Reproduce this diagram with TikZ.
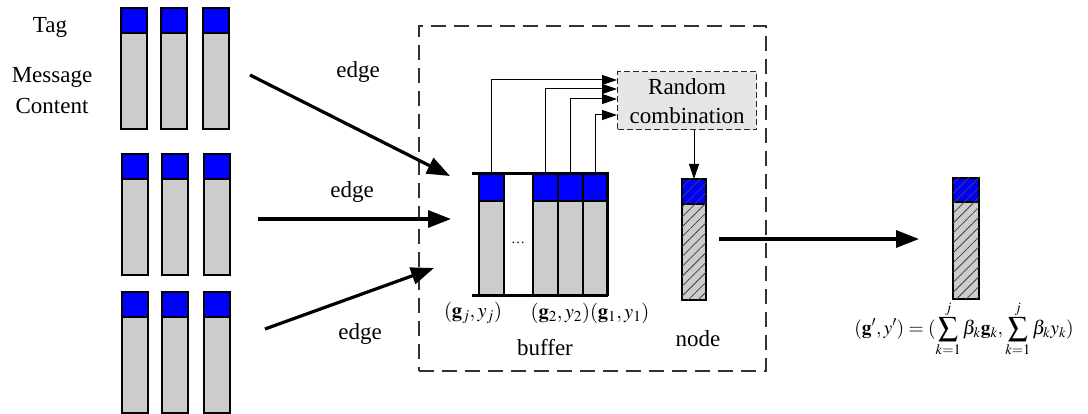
\documentclass[tikz,border=0pt]{standalone}
\usepackage{mathptmx}
\usepackage{fontspec}
\setmainfont{Liberation Serif}
\usetikzlibrary{arrows.meta,patterns.meta}
\definecolor{barGray}{RGB}{204,204,204}
\definecolor{tagBlue}{RGB}{0,0,255}
\definecolor{rcGray}{RGB}{230,230,230}
\definecolor{frameGray}{RGB}{50,50,50}
\newcommand\msgcol[3]{%
  \node[tagcell, minimum width=26pt, minimum height=25pt] (#1t) at (#2,#3) {};
  \node[bodycell, minimum width=26pt, minimum height=96pt] (#1b) at (#2,#3+25) {};
}
\begin{document}
\begin{tikzpicture}[x=1pt,y=-1pt,
  cell/.style={draw=black, line width=1.1pt, inner sep=0pt, outer sep=0pt, anchor=north west},
  tagcell/.style={cell, fill=tagBlue},
  bodycell/.style={cell, fill=barGray},
  hatch/.style={postaction={pattern={Lines[angle=45,distance=7pt,line width=0.8pt]}, pattern color=black!75}},
  lab/.style={font=\fontsize{23}{27}\selectfont, inner sep=0pt},
  mlab/.style={font=\fontsize{20.5}{24}\selectfont, inner sep=0pt},
  big/.style={line width=3.2pt, -{Triangle[length=23pt,width=17pt]}},
  thinarrow/.style={line width=1pt, -{Triangle[length=15pt,width=10pt]}},
  thick frame/.style={line width=3pt},
  rcbox/.style={draw=black!85, dash pattern=on 6pt off 3pt, line width=1.3pt, fill=rcGray,
    inner sep=0pt, anchor=north west, align=center, font=\fontsize{23}{29}\selectfont},
  bigbox/.style={draw=frameGray, dash pattern=on 15pt off 8pt, line width=1.4pt}
]
\useasboundingbox (0,0) rectangle (1088,414);

% left message groups
\msgcol{a1}{121}{8}
\msgcol{a2}{161}{8}
\msgcol{a3}{203}{8}
\msgcol{b1}{122}{154}
\msgcol{b2}{162}{154}
\msgcol{b3}{204}{154}
\msgcol{c1}{122}{292}
\msgcol{c2}{162}{292}
\msgcol{c3}{204}{292}

\node[lab] (tag) at (50,27) {Tag};
\node[lab] (msg) at (52,77) {Message};
\node[lab] (cont) at (52,106) {Content};

% big dashed box
\node[bigbox, inner sep=0pt, outer sep=0pt, anchor=north west, minimum width=347pt, minimum height=345pt] (frame) at (419,26) {};

% edges
\coordinate (e1s) at (250,75);  \coordinate (e1e) at (450,176);
\coordinate (e2s) at (258,219); \coordinate (e2e) at (451,219);
\coordinate (e3s) at (265,329); \coordinate (e3e) at (434,268);
\draw[big] (e1s) -- (e1e);
\draw[big] (e2s) -- (e2e);
\draw[big] (e3s) -- (e3e);
\node[lab] (edge1) at (358,72) {edge};
\node[lab] (edge2) at (352,192) {edge};
\node[lab] (edge3) at (360,334) {edge};

% buffer
\node[tagcell, minimum width=25pt, minimum height=27pt] (bt1) at (479,174) {};
\node[bodycell, minimum width=25pt, minimum height=95pt] (bb1) at (479,201) {};
\node[cell, fill=white, minimum width=29pt, minimum height=122pt] (bgap) at (504,174) {};
\node[font=\fontsize{14}{16}\selectfont, inner sep=0pt] (dots) at (518,243) {\ldots};
\node[tagcell, minimum width=25pt, minimum height=27pt] (bt3) at (533,174) {};
\node[bodycell, minimum width=25pt, minimum height=95pt] (bb3) at (533,201) {};
\node[tagcell, minimum width=25pt, minimum height=27pt] (bt4) at (558,174) {};
\node[bodycell, minimum width=25pt, minimum height=95pt] (bb4) at (558,201) {};
\node[tagcell, minimum width=24pt, minimum height=27pt] (bt5) at (583,174) {};
\node[bodycell, minimum width=24pt, minimum height=95pt] (bb5) at (583,201) {};
\coordinate (btl) at (472,174); \coordinate (btr) at (607,174);
\coordinate (bbl) at (472,296); \coordinate (bbr) at (607,296);
\draw[thick frame] (btl) -- (btr) -- (bbr);
\draw[thick frame] (bbl) -- (bbr);

\node[mlab] (lj) at (473,313) {$(\mathbf{g}_j,y_j)$};
\node[mlab] (l21) at (590,313) {$(\mathbf{g}_2,y_2)(\mathbf{g}_1,y_1)$};
\node[lab] (buf) at (545,348) {buffer};

% random combination
\node[rcbox, minimum width=139pt, minimum height=58pt] (rc) at (617,71) {Random\\combination};
\draw[thinarrow] (bt1.north) |- ([yshift=-9pt]rc.north west);
\draw[thinarrow] (bt3.north) |- ([yshift=-18pt]rc.north west);
\draw[thinarrow] (bt4.north) |- ([yshift=-28pt]rc.north west);
\draw[thinarrow] (bt5.north) |- ([yshift=-44pt]rc.north west);

% node
\node[tagcell, hatch, minimum width=24pt, minimum height=25pt] (nt) at (682,179) {};
\node[bodycell, hatch, minimum width=24pt, minimum height=96pt] (nb) at (682,204) {};
\draw[thinarrow] (rc.south -| nt.north) -- (nt.north);
\node[lab] (nodelbl) at (698,339) {node};

% output
\coordinate (os) at (719,239); \coordinate (oe) at (919,239);
\draw[big] (os) -- (oe);
\node[tagcell, hatch, minimum width=26pt, minimum height=24pt] (ft) at (953,178) {};
\node[bodycell, hatch, minimum width=26pt, minimum height=97pt] (fb) at (953,202) {};
\node[font=\fontsize{19.5}{23}\selectfont, inner sep=0pt] (formula) at (964,329)
  {$\displaystyle(\mathbf{g}',y')=(\sum_{k=1}^{j}\beta_k\mathbf{g}_k,\sum_{k=1}^{j}\beta_k y_k)$};
\end{tikzpicture}
\end{document}
